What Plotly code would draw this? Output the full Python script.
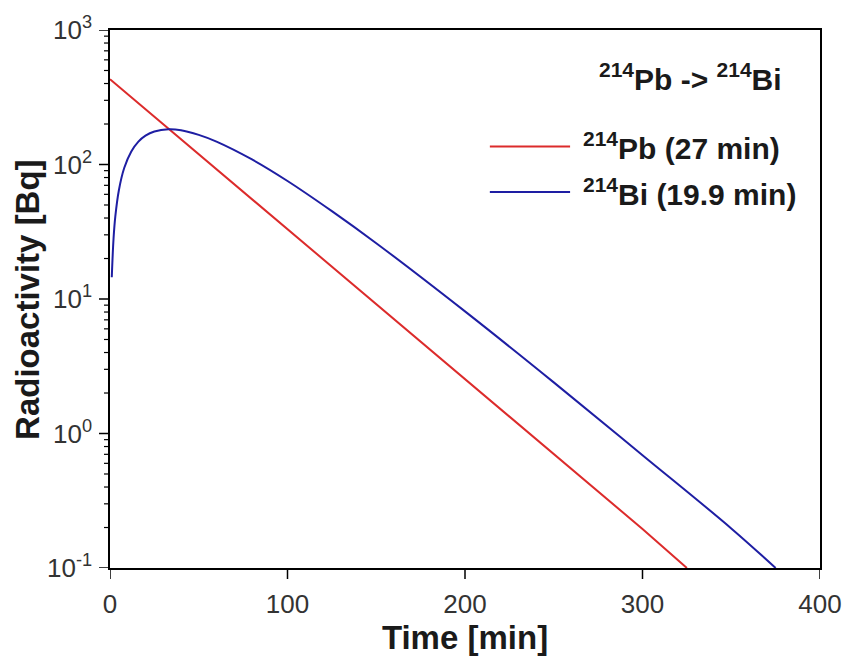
import plotly.graph_objects as go

# Data
pb_time = [0, 50, 100, 150, 200, 250, 300, 325]
pb_activity = [430, 119, 33.0, 9.15, 2.53, 0.70, 0.195, 0.10]

bi_time = [1, 2, 3, 5, 8, 12, 16, 20, 25, 33, 40, 50, 60, 80, 100, 125, 150,
           200, 250, 300, 350, 375]
bi_activity = [14.5, 28.2, 41.1, 64.4, 94.1, 125, 148, 164, 176, 183, 180, 166,
               148, 109, 75.4, 45, 26, 8.09, 2.40, 0.69, 0.197, 0.10]

x_ticks = [0, 100, 200, 300, 400]
y_tickvals = [0.1, 1, 10, 100, 1000]
y_ticktext = ["10<sup>-1</sup>", "10<sup>0</sup>", "10<sup>1</sup>",
              "10<sup>2</sup>", "10<sup>3</sup>"]
y_minor_ticks = [m * d for d in [0.1, 1, 10, 100] for m in range(2, 10)]

series_names = ["<sup>214</sup>Pb (27 min)", "<sup>214</sup>Bi (19.9 min)"]
series_colors = ["#dc2b2b", "#1e1ea3"]
chart_label = "<b><sup>214</sup>Pb -> <sup>214</sup>Bi</b>"

FONT = "Liberation Sans, Arial, sans-serif"
TICK_COLOR = "black"

fig = go.Figure()
fig.add_trace(go.Scatter(x=pb_time, y=pb_activity, mode="lines",
                         name=series_names[0], showlegend=False,
                         line=dict(color=series_colors[0], width=2)))
fig.add_trace(go.Scatter(x=bi_time, y=bi_activity, mode="lines",
                         name=series_names[1], showlegend=False,
                         line=dict(color=series_colors[1], width=2),
                         line_shape="spline"))

# visible tick marks, placed on the axes' own scales (pixel-length stubs)
for v in x_ticks:
    fig.add_shape(type="line", xref="x", yref="paper", ysizemode="pixel",
                  yanchor=0, x0=v, x1=v, y0=0, y1=-11,
                  line=dict(color=TICK_COLOR, width=1.5), layer="above")
for v in y_tickvals:
    fig.add_shape(type="line", xref="paper", yref="y", xsizemode="pixel",
                  xanchor=0, x0=0, x1=-11, y0=v, y1=v,
                  line=dict(color=TICK_COLOR, width=1.5), layer="above")
for v in y_minor_ticks:
    fig.add_shape(type="line", xref="paper", yref="y", xsizemode="pixel",
                  xanchor=0, x0=0, x1=-6, y0=v, y1=v,
                  line=dict(color=TICK_COLOR, width=1.2), layer="above")

# manual legend (long sample lines like the reference)
leg_y = [0.7835, 0.699]
for name, color, yy in zip(series_names, series_colors, leg_y):
    fig.add_shape(type="line", xref="paper", yref="paper",
                  x0=0.535, x1=0.648, y0=yy, y1=yy,
                  line=dict(color=color, width=2))
    fig.add_annotation(xref="paper", yref="paper", x=0.663, y=yy,
                       xanchor="left", yanchor="middle", showarrow=False,
                       text="<b>" + name + "</b>",
                       font=dict(family=FONT, size=30, color="#1a1a1a"))

fig.add_annotation(xref="paper", yref="paper", x=0.818, y=0.912,
                   xanchor="center", yanchor="middle", showarrow=False,
                   text=chart_label,
                   font=dict(family=FONT, size=30, color="#1a1a1a"))

# y-axis title placed as rotated annotation
fig.add_annotation(xref="paper", yref="paper", x=-0.117, y=0.5,
                   xanchor="center", yanchor="middle", showarrow=False,
                   textangle=-90, text="<b>Radioactivity [Bq]</b>",
                   font=dict(family=FONT, size=33, color="#1a1a1a"))

fig.update_layout(
    width=854, height=656,
    margin=dict(l=110, r=34, t=29, b=82),
    paper_bgcolor="white", plot_bgcolor="white",
    font=dict(family=FONT, color="#333333"),
    showlegend=False,
)
fig.update_xaxes(
    range=[0, 400], tickmode="array", tickvals=x_ticks,
    ticks="outside", ticklen=12, tickwidth=1.5, tickcolor="rgba(0,0,0,0)",
    showline=True, linecolor="black", linewidth=1.5, mirror=True,
    showgrid=False, zeroline=False,
    tickfont=dict(family=FONT, size=26, color="#333333"),
    title=dict(text="<b>Time [min]</b>", standoff=2,
               font=dict(family=FONT, size=33, color="#1a1a1a")),
)
fig.update_yaxes(
    type="log", range=[-1, 3], tickmode="array",
    tickvals=y_tickvals, ticktext=y_ticktext,
    ticks="outside", ticklen=11, tickwidth=1.5, tickcolor="rgba(0,0,0,0)",
    showline=True, linecolor="black", linewidth=1.5, mirror=True,
    showgrid=False, zeroline=False,
    tickfont=dict(family=FONT, size=26, color="#333333"),
)

fig.write_html("out.html")
